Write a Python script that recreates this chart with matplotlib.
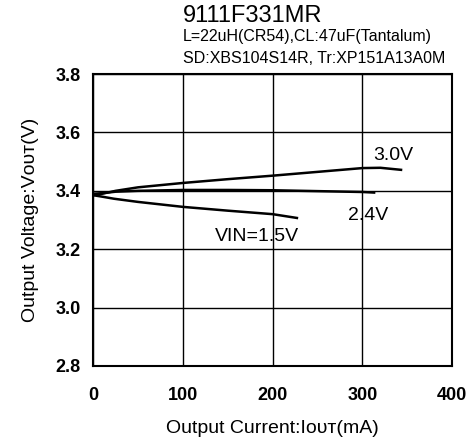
import matplotlib.pyplot as plt

plt.rcParams['font.family'] = ['Liberation Sans', 'DejaVu Sans']

# output current (mA) vs output voltage (V) for each input voltage
iout_30 = [0, 10, 25, 50, 100, 150, 200, 250, 300, 320, 343]
vout_30 = [3.385, 3.39, 3.40, 3.412, 3.427, 3.44, 3.452, 3.465, 3.478, 3.479, 3.472]

iout_24 = [0, 10, 25, 50, 100, 150, 200, 250, 300, 313]
vout_24 = [3.39, 3.392, 3.397, 3.40, 3.403, 3.403, 3.402, 3.399, 3.396, 3.394]

iout_15 = [0, 10, 23, 50, 100, 150, 200, 227]
vout_15 = [3.385, 3.38, 3.373, 3.362, 3.345, 3.332, 3.32, 3.307]

xticks = [0, 100, 200, 300, 400]
yticks = [2.8, 3.0, 3.2, 3.4, 3.6, 3.8]

fig = plt.figure(figsize=(4.73, 4.44), dpi=100)
ax = fig.add_axes([0.197, 0.176, 0.759, 0.657])

ax.plot(iout_30, vout_30, color="black", linewidth=1.8)
ax.plot(iout_24, vout_24, color="black", linewidth=1.8)
ax.plot(iout_15, vout_15, color="black", linewidth=1.8)

ax.text(334, 3.52, "3.0V", ha="center", va="center", fontsize=14)
ax.text(306, 3.315, "2.4V", ha="center", va="center", fontsize=14)
ax.text(183, 3.245, "VIN=1.5V", ha="center", va="center", fontsize=14)

ax.set_xlim(0, 400)
ax.set_ylim(2.8, 3.8)
ax.set_xticks(xticks)
ax.set_yticks(yticks)
ax.set_xticklabels([str(v) for v in xticks], fontsize=13, fontweight="bold")
ax.set_yticklabels(["%.1f" % v for v in yticks], fontsize=13, fontweight="bold")
ax.tick_params(axis="x", length=0, pad=15)
ax.tick_params(axis="y", length=0, pad=9)
ax.grid(True, color="black", linewidth=1)
for s in ax.spines.values():
    s.set_linewidth(1.5)

ax.set_xlabel("Output Current:Iᴏᴜᴛ(mA)", fontsize=14, labelpad=12)
ax.set_ylabel("Output Voltage:Vᴏᴜᴛ(V)", fontsize=14, labelpad=12)

fig.text(0.387, 0.965, "9111F331MR", fontsize=17, ha="left", va="center")
fig.text(0.387, 0.918, "L=22uH(CR54),CL:47uF(Tantalum)", fontsize=11.5, ha="left", va="center")
fig.text(0.387, 0.869, "SD:XBS104S14R, Tr:XP151A13A0M", fontsize=11.5, ha="left", va="center")

fig.savefig("out.png", dpi=100)
